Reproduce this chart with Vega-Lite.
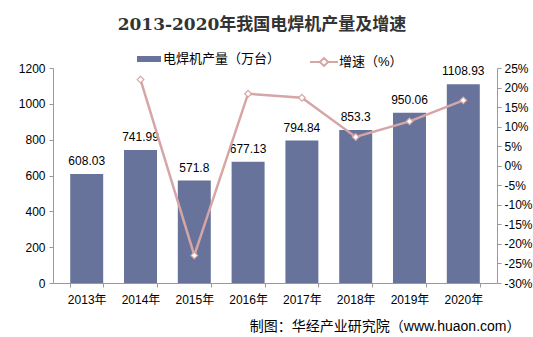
{
  "$schema": "https://vega.github.io/schema/vega-lite/v6.json",
  "width": 444,
  "height": 215,
  "autosize": {"type": "none"},
  "padding": {"left": 53, "top": 68, "right": 36, "bottom": 54},
  "background": "white",
  "title": {
    "text": "2013-2020年我国电焊机产量及增速",
    "font": "DejaVu Serif, Noto Sans CJK SC",
    "fontSize": 17,
    "fontWeight": "bold",
    "color": "#333333",
    "anchor": "middle",
    "dx": -13,
    "offset": 13
  },
  "data": {
    "values": [
      {"year": "2013年", "output": 608.03, "growth": null},
      {"year": "2014年", "output": 741.99, "growth": 22.03},
      {"year": "2015年", "output": 571.8, "growth": -22.94},
      {"year": "2016年", "output": 677.13, "growth": 18.42},
      {"year": "2017年", "output": 794.84, "growth": 17.38},
      {"year": "2018年", "output": 853.3, "growth": 7.35},
      {"year": "2019年", "output": 950.06, "growth": 11.34},
      {"year": "2020年", "output": 1108.93, "growth": 16.72}
    ]
  },
  "encoding": {
    "x": {
      "field": "year",
      "type": "nominal",
      "sort": null,
      "scale": {"paddingInner": 0.387, "paddingOuter": 0.32},
      "axis": {
        "labelAngle": 0,
        "labelPadding": 7,
        "tickBand": "extent",
        "tickSize": 4,
        "tickColor": "#999999",
        "domainColor": "#999999",
        "title": "制图：华经产业研究院（www.huaon.com）",
        "titleFont": "Liberation Sans, Noto Sans CJK SC",
        "titleFontSize": 14,
        "titleFontWeight": "normal",
        "titleColor": "#000000",
        "titleAnchor": "end",
        "titleAlign": "right",
        "titleX": 467,
        "titleY": 36
      }
    }
  },
  "layer": [
    {
      "encoding": {
        "y": {
          "field": "output",
          "type": "quantitative",
          "scale": {"domain": [0, 1200]},
          "axis": {
            "title": null,
            "values": [0, 200, 400, 600, 800, 1000, 1200],
            "format": "d",
            "grid": false,
            "tickSize": 4,
            "labelPadding": 4,
            "domainColor": "#999999",
            "tickColor": "#999999"
          }
        }
      },
      "layer": [
        {
          "mark": {"type": "bar", "color": "#67739A"},
          "encoding": {
            "fill": {
              "datum": "电焊机产量（万台）",
              "type": "nominal",
              "scale": {"range": ["#67739A"]},
              "legend": {
                "orient": "none",
                "legendX": 84,
                "legendY": -21,
                "title": null,
                "symbolType": "M-1,-0.25H1V0.25H-1Z",
                "symbolSize": 576,
                "symbolStrokeWidth": 0,
                "labelFontSize": 13,
                "labelOffset": 2
              }
            }
          }
        },
        {
          "mark": {"type": "text", "dy": -13, "fontSize": 12, "color": "#000000"},
          "encoding": {
            "text": {"field": "output", "type": "quantitative"}
          }
        }
      ]
    },
    {
      "mark": {
        "type": "line",
        "color": "#D6A6A6",
        "strokeWidth": 2.5,
        "point": {"shape": "diamond", "filled": true, "fill": "white", "stroke": "#D6A6A6", "strokeWidth": 1.2, "size": 45}
      },
      "encoding": {
        "y": {
          "field": "growth",
          "type": "quantitative",
          "scale": {"domain": [-30, 25]},
          "axis": {
            "orient": "right",
            "title": null,
            "values": [-30, -25, -20, -15, -10, -5, 0, 5, 10, 15, 20, 25],
            "labelExpr": "datum.value + '%'",
            "grid": false,
            "tickSize": 4,
            "labelPadding": 3,
            "domainColor": "#999999",
            "tickColor": "#999999"
          }
        },
        "stroke": {
          "datum": "增速（%）",
          "type": "nominal",
          "scale": {"range": ["#D6A6A6"]},
          "legend": {
            "orient": "none",
            "legendX": 256,
            "legendY": -21,
            "title": null,
            "symbolType": "M-1,0H-0.3M0.3,0H1M-0.3,0L0,-0.28L0.3,0L0,0.28Z",
            "symbolSize": 784,
            "symbolFillColor": "white",
            "symbolStrokeWidth": 2,
            "labelFontSize": 13,
            "labelOffset": 0
          }
        }
      }
    }
  ],
  "resolve": {"scale": {"y": "independent"}},
  "config": {
    "font": "Liberation Sans, Noto Sans CJK SC",
    "view": {"stroke": null},
    "axis": {"labelFontSize": 12, "labelColor": "#000000", "labelFont": "Liberation Sans, Noto Sans CJK SC"},
    "legend": {"labelColor": "#000000", "labelFont": "Liberation Sans, Noto Sans CJK SC"}
  }
}
